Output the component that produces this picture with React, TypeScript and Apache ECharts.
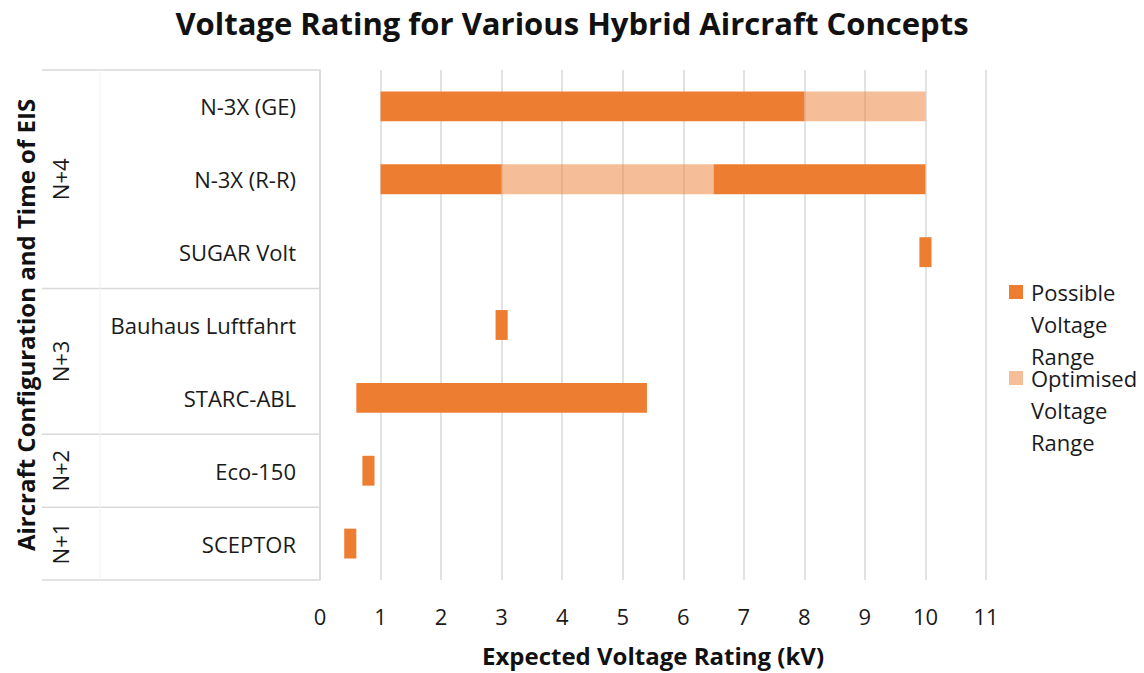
import React, { useEffect, useRef } from "react";
import * as echarts from "echarts";

const categories = [
  "N-3X (GE)",
  "N-3X (R-R)",
  "SUGAR Volt",
  "Bauhaus Luftfahrt",
  "STARC-ABL",
  "Eco-150",
  "SCEPTOR",
];
// possible voltage ranges [category index, start kV, end kV]
const possibleRanges: [number, number, number][] = [
  [0, 1, 8],
  [1, 1, 3],
  [1, 6.5, 10],
  [2, 9.9, 10.1],
  [3, 2.9, 3.1],
  [4, 0.6, 5.4],
  [5, 0.7, 0.9],
  [6, 0.4, 0.6],
];
// optimised voltage ranges [category index, start kV, end kV]
const optimisedRanges: [number, number, number][] = [
  [0, 8, 10],
  [1, 3, 6.5],
];
const groupLabels = ["N+4", "N+3", "N+2", "N+1"];
const groupSizes = [3, 2, 1, 1];
const xTicks = [0, 1, 2, 3, 4, 5, 6, 7, 8, 9, 10, 11];

const FONT = "'Open Sans', Lato, sans-serif";
const GRID = { left: 320, top: 70, right: 158, bottom: 93 };
const PLOT_H = 673 - GRID.top - GRID.bottom;

export default function App() {
  const ref = useRef<HTMLDivElement>(null);
  useEffect(() => {
    document.body.style.margin = "0";
    const chart = echarts.init(ref.current!, null, { renderer: "svg" });
    const renderItem = (params: any, api: any) => {
      const cat = api.value(0);
      const p0 = api.coord([api.value(1), cat]);
      const p1 = api.coord([api.value(2), cat]);
      const h = api.size([0, 1])[1] * 0.41;
      return {
        type: "rect",
        shape: { x: p0[0], y: p0[1] - h / 2, width: p1[0] - p0[0], height: h },
        style: api.style(),
      };
    };
    const rowH = PLOT_H / categories.length;
    const graphics: any[] = [];
    const lineStyle = { stroke: "#D9D9D9", lineWidth: 1.5 };
    let acc = 0;
    const bounds = [0];
    groupSizes.forEach((s) => {
      acc += s;
      bounds.push(acc);
    });
    bounds.forEach((b) => {
      const y = GRID.top + b * rowH;
      graphics.push({
        type: "line",
        shape: { x1: 42, y1: y, x2: GRID.left, y2: y },
        style: lineStyle,
        silent: true,
      });
    });
    graphics.push({
      type: "line",
      shape: { x1: 100, y1: GRID.top, x2: 100, y2: GRID.top + PLOT_H },
      style: { stroke: "#F0F0F0", lineWidth: 1 },
      silent: true,
    });
    groupLabels.forEach((g, i) => {
      const yc = GRID.top + ((bounds[i] + bounds[i + 1]) / 2) * rowH;
      graphics.push({
        type: "text",
        x: 60,
        y: yc,
        rotation: Math.PI / 2,
        style: {
          text: g,
          font: `22px ${FONT}`,
          fill: "#1a1a1a",
          align: "center",
          verticalAlign: "middle",
        },
      });
    });
    graphics.push({
      type: "text",
      x: 25,
      y: GRID.top + PLOT_H / 2,
      rotation: Math.PI / 2,
      style: {
        text: "Aircraft Configuration and Time of EIS",
        font: `bold 24px ${FONT}`,
        fill: "#111",
        align: "center",
        verticalAlign: "middle",
      },
    });
    const legendItems = [
      { name: "Possible\nVoltage\nRange", color: "#ED7D31", y: 292 },
      { name: "Optimised\nVoltage\nRange", color: "#F6BE98", y: 378 },
    ];
    legendItems.forEach((it) => {
      graphics.push({
        type: "rect",
        shape: { x: 1009, y: it.y - 7, width: 14, height: 14 },
        style: { fill: it.color },
      });
      graphics.push({
        type: "text",
        x: 1031,
        y: it.y - 16,
        style: {
          text: it.name,
          font: `22px ${FONT}`,
          lineHeight: 32,
          fill: "#1a1a1a",
          align: "left",
          verticalAlign: "top",
        },
      });
    });

    chart.setOption({
      animation: false,
      title: {
        text: "Voltage Rating for Various Hybrid Aircraft Concepts",
        left: "center",
        top: 2,
        textStyle: { fontFamily: FONT, fontWeight: "bold", fontSize: 31, color: "#111" },
      },
      grid: GRID,
      xAxis: {
        type: "value",
        min: 0,
        max: 11,
        interval: 1,
        axisLine: { show: false },
        axisTick: { show: false },
        splitLine: { show: true, lineStyle: { color: "#D9D9D9", width: 1.5 } },
        axisLabel: {
          fontFamily: FONT,
          fontSize: 22,
          color: "#1a1a1a",
          margin: 25,
          formatter: (v: number) => (xTicks.includes(v) ? String(v) : ""),
        },
        name: "Expected Voltage Rating (kV)",
        nameLocation: "middle",
        nameGap: 63,
        nameTextStyle: { fontFamily: FONT, fontWeight: "bold", fontSize: 24, color: "#111" },
      },
      yAxis: {
        type: "category",
        data: categories,
        inverse: true,
        axisLine: { show: true, lineStyle: { color: "#D9D9D9", width: 1.5 } },
        axisTick: { show: false },
        splitLine: { show: false },
        axisLabel: { fontFamily: FONT, fontSize: 22, color: "#1a1a1a", margin: 24 },
      },
      series: [
        {
          name: "Possible Voltage Range",
          type: "custom",
          renderItem,
          encode: { x: [1, 2], y: 0 },
          itemStyle: { color: "#ED7D31" },
          data: possibleRanges,
          z: 3,
        },
        {
          name: "Optimised Voltage Range",
          type: "custom",
          renderItem,
          encode: { x: [1, 2], y: 0 },
          itemStyle: { color: "#ED7D31", opacity: 0.5 },
          data: optimisedRanges,
          z: 4,
        },
      ],
      graphic: graphics,
    });
    return () => chart.dispose();
  }, []);
  return (
    <div
      ref={ref}
      style={{ position: "fixed", left: 0, top: 0, width: 1144, height: 673, background: "#fff" }}
    />
  );
}
